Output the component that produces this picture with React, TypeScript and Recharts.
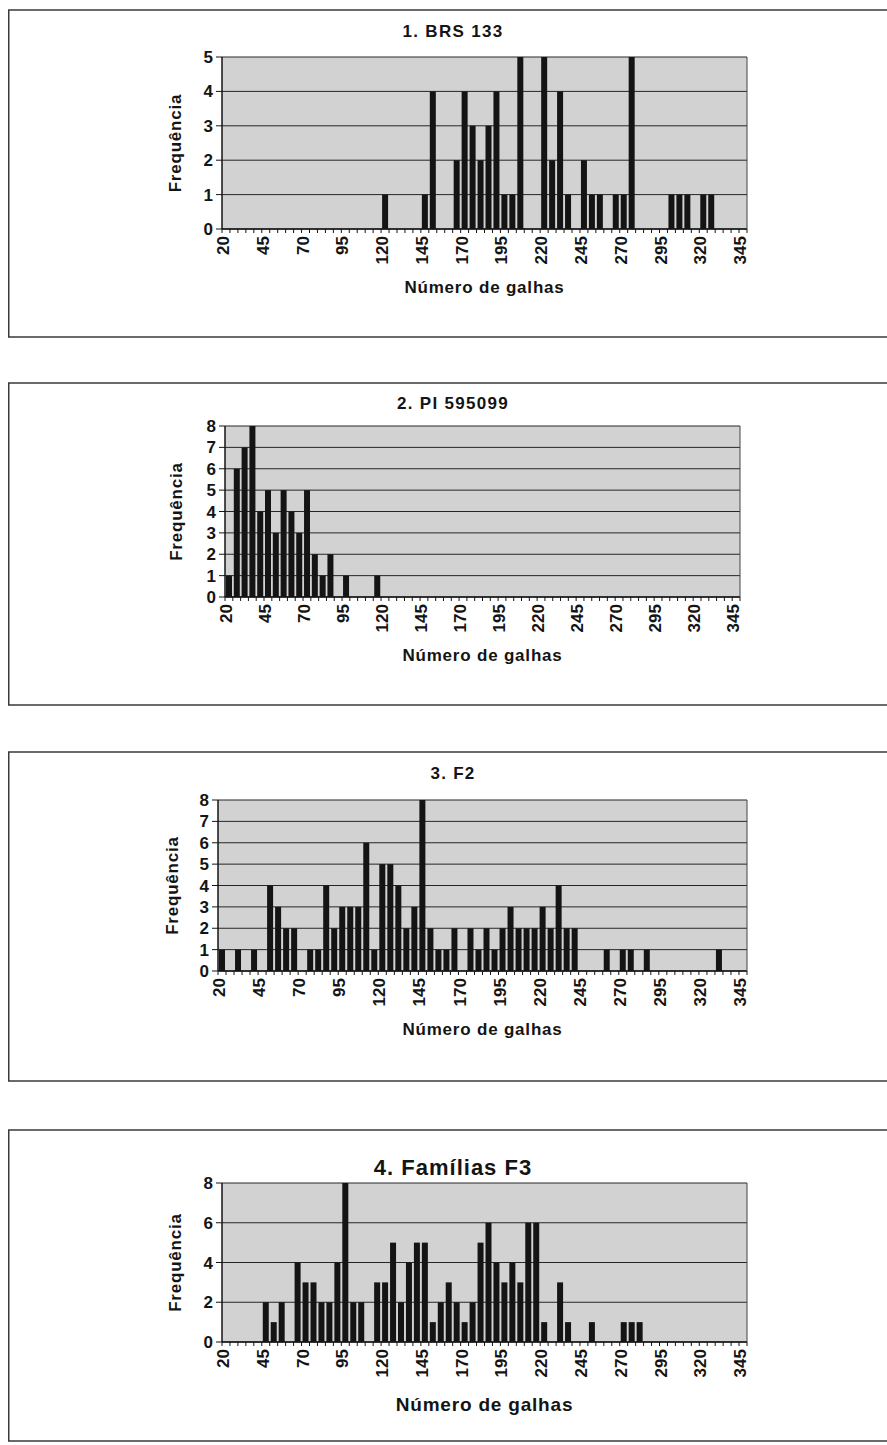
import React from 'react';
import { BarChart, Bar, XAxis, YAxis, CartesianGrid } from 'recharts';

const categories: number[] = [20, 25, 30, 35, 40, 45, 50, 55, 60, 65, 70, 75, 80, 85, 90, 95, 100, 105, 110, 115, 120, 125, 130, 135, 140, 145, 150, 155, 160, 165, 170, 175, 180, 185, 190, 195, 200, 205, 210, 215, 220, 225, 230, 235, 240, 245, 250, 255, 260, 265, 270, 275, 280, 285, 290, 295, 300, 305, 310, 315, 320, 325, 330, 335, 340, 345];

const brs133: number[] = [
  0, 0, 0, 0, 0, 0, 0, 0, 0, 0,
  0, 0, 0, 0, 0, 0, 0, 0, 0, 0,
  1, 0, 0, 0, 0, 1, 4, 0, 0, 2,
  4, 3, 2, 3, 4, 1, 1, 5, 0, 0,
  5, 2, 4, 1, 0, 2, 1, 1, 0, 1,
  1, 5, 0, 0, 0, 0, 1, 1, 1, 0,
  1, 1, 0, 0, 0, 0,
];

const pi595099: number[] = [
  1, 6, 7, 8, 4, 5, 3, 5, 4, 3,
  5, 2, 1, 2, 0, 1, 0, 0, 0, 1,
  0, 0, 0, 0, 0, 0, 0, 0, 0, 0,
  0, 0, 0, 0, 0, 0, 0, 0, 0, 0,
  0, 0, 0, 0, 0, 0, 0, 0, 0, 0,
  0, 0, 0, 0, 0, 0, 0, 0, 0, 0,
  0, 0, 0, 0, 0, 0,
];

const f2: number[] = [
  1, 0, 1, 0, 1, 0, 4, 3, 2, 2,
  0, 1, 1, 4, 2, 3, 3, 3, 6, 1,
  5, 5, 4, 2, 3, 8, 2, 1, 1, 2,
  0, 2, 1, 2, 1, 2, 3, 2, 2, 2,
  3, 2, 4, 2, 2, 0, 0, 0, 1, 0,
  1, 1, 0, 1, 0, 0, 0, 0, 0, 0,
  0, 0, 1, 0, 0, 0,
];

const familiasF3: number[] = [
  0, 0, 0, 0, 0, 2, 1, 2, 0, 4,
  3, 3, 2, 2, 4, 8, 2, 2, 0, 3,
  3, 5, 2, 4, 5, 5, 1, 2, 3, 2,
  1, 2, 5, 6, 4, 3, 4, 3, 6, 6,
  1, 0, 3, 1, 0, 0, 1, 0, 0, 0,
  1, 1, 1, 0, 0, 0, 0, 0, 0, 0,
  0, 0, 0, 0, 0, 0,
];

const yTicksPanel1: number[] = [0, 1, 2, 3, 4, 5];
const yTicksPanel2: number[] = [0, 1, 2, 3, 4, 5, 6, 7, 8];
const yTicksPanel3: number[] = [0, 1, 2, 3, 4, 5, 6, 7, 8];
const yTicksPanel4: number[] = [0, 2, 4, 6, 8];

const titles: string[] = ['1. BRS 133', '2. PI 595099', '3. F2', '4. Famílias F3'];
const xAxisTitle = 'Número de galhas';
const yAxisTitle = 'Frequência';
const LABEL_EVERY = 5;

const FONT = '"Liberation Sans", Arial, Helvetica, sans-serif';
const INK = '#141414';

type PanelCfg = {
  title: string;
  values: number[];
  yTicks: number[];
  boxTop: number;
  boxBottom: number;
  plotLeft: number;
  plotRight: number;
  plotTop: number;
  plotBottom: number;
  titleBase: number;
  titleSize: number;
  xTitleBase: number;
  xTitleSize: number;
  yLabelX: number;
};

const panels: PanelCfg[] = [
  { title: titles[0], values: brs133, yTicks: yTicksPanel1, boxTop: 10, boxBottom: 337, plotLeft: 222, plotRight: 747, plotTop: 57, plotBottom: 229, titleBase: 37, titleSize: 17, xTitleBase: 293, xTitleSize: 17, yLabelX: 175 },
  { title: titles[1], values: pi595099, yTicks: yTicksPanel2, boxTop: 383, boxBottom: 705, plotLeft: 225, plotRight: 740, plotTop: 426, plotBottom: 597, titleBase: 409, titleSize: 17, xTitleBase: 661, xTitleSize: 17, yLabelX: 176 },
  { title: titles[2], values: f2, yTicks: yTicksPanel3, boxTop: 752, boxBottom: 1081, plotLeft: 218, plotRight: 747, plotTop: 800, plotBottom: 971, titleBase: 779, titleSize: 17, xTitleBase: 1035, xTitleSize: 17, yLabelX: 172 },
  { title: titles[3], values: familiasF3, yTicks: yTicksPanel4, boxTop: 1130, boxBottom: 1441, plotLeft: 222, plotRight: 747, plotTop: 1183, plotBottom: 1342, titleBase: 1175, titleSize: 22, xTitleBase: 1411, xTitleSize: 19, yLabelX: 175 },
];

const PAGE_W = 887;
const PAGE_H = 1445;
const Y_AXIS_W = 60;
const X_AXIS_H = 60;
const TOP_PAD = 10;

function makeXTick(step: number) {
  return (props: any) => {
    const { x, y, payload, index } = props;
    const bx = x - step / 2;
    const show = index % LABEL_EVERY === 0;
    const lx = x - 3;
    const ly = y + 7;
    return (
      <g>
        <line x1={bx} x2={bx} y1={y} y2={y + 4} stroke={INK} strokeWidth={1} />
        {index === categories.length - 1 && (
          <line x1={x + step / 2} x2={x + step / 2} y1={y} y2={y + 4} stroke={INK} strokeWidth={1} />
        )}
        {show && (
          <text
            x={lx}
            y={ly}
            transform={`rotate(-90 ${lx} ${ly})`}
            textAnchor="end"
            dy="0.36em"
            fontSize={17}
            fontWeight="bold"
            fontFamily={FONT}
            fill={INK}
          >
            {payload.value}
          </text>
        )}
      </g>
    );
  };
}

function PanelChart({ cfg }: { cfg: PanelCfg }) {
  const data = categories.map((c, i) => ({ cat: c, value: cfg.values[i] }));
  const yMax = cfg.yTicks[cfg.yTicks.length - 1];
  const height = cfg.plotBottom - cfg.plotTop + TOP_PAD + X_AXIS_H;
  const step = (cfg.plotRight - cfg.plotLeft) / categories.length;
  return (
    <div style={{ position: 'absolute', left: 0, top: cfg.plotTop - TOP_PAD }}>
      <BarChart
        width={PAGE_W}
        height={height}
        data={data}
        margin={{ top: TOP_PAD, right: PAGE_W - cfg.plotRight - 1, bottom: 0, left: cfg.plotLeft - Y_AXIS_W }}
        barCategoryGap={1}
      >
        <CartesianGrid horizontal vertical={false} fill="#d2d2d2" fillOpacity={1} stroke="#262626" strokeWidth={1} />
        <XAxis
          dataKey="cat"
          type="category"
          interval={0}
          height={X_AXIS_H}
          tickSize={0}
          tickMargin={0}
          tickLine={false}
          axisLine={{ stroke: INK, strokeWidth: 1.5 }}
          tick={makeXTick(step)}
        />
        <YAxis
          type="number"
          domain={[0, yMax]}
          ticks={cfg.yTicks}
          interval={0}
          width={Y_AXIS_W}
          tickSize={6}
          tickMargin={3}
          tickLine={{ stroke: INK }}
          axisLine={{ stroke: INK, strokeWidth: 1.5 }}
          tick={{ fontSize: 17, fontWeight: 'bold', fill: INK, fontFamily: FONT }}
          allowDecimals={false}
        />
        <YAxis
          yAxisId="r"
          orientation="right"
          type="number"
          domain={[0, yMax]}
          width={1}
          tick={false}
          tickLine={false}
          axisLine={{ stroke: '#444', strokeWidth: 1 }}
        />
        <Bar dataKey="value" fill={INK} barSize={6} isAnimationActive={false} />
      </BarChart>
    </div>
  );
}

export default function App() {
  return (
    <div
      style={{
        position: 'absolute',
        left: 0,
        top: 0,
        width: PAGE_W,
        height: PAGE_H,
        overflow: 'hidden',
        background: '#ffffff',
      }}
    >
      <svg width={PAGE_W} height={PAGE_H} style={{ position: 'absolute', left: 0, top: 0 }}>
        {panels.map((p, i) => {
          const midY = (p.plotTop + p.plotBottom) / 2;
          const midX = (p.plotLeft + p.plotRight) / 2;
          return (
            <g key={i}>
              <rect x={8.75} y={p.boxTop} width={910} height={p.boxBottom - p.boxTop} fill="none" stroke="#3a3a3a" strokeWidth={1.5} />
              <text x={453} y={p.titleBase} textAnchor="middle" fontSize={p.titleSize} fontWeight="bold" fontFamily={FONT} fill={INK} letterSpacing={i === 3 ? 1 : 1.3}>
                {p.title}
              </text>
              <text x={midX} y={p.xTitleBase} textAnchor="middle" fontSize={p.xTitleSize} fontWeight="bold" fontFamily={FONT} fill={INK} letterSpacing={i === 3 ? 0.8 : 0.8}>
                {xAxisTitle}
              </text>
              <text
                x={p.yLabelX}
                y={midY}
                transform={`rotate(-90 ${p.yLabelX} ${midY})`}
                textAnchor="middle"
                dy="0.36em"
                fontSize={17}
                fontWeight="bold"
                fontFamily={FONT}
                fill={INK}
                letterSpacing={0.8}
              >
                {yAxisTitle}
              </text>
            </g>
          );
        })}
      </svg>
      {panels.map((p, i) => (
        <PanelChart key={i} cfg={p} />
      ))}
    </div>
  );
}
